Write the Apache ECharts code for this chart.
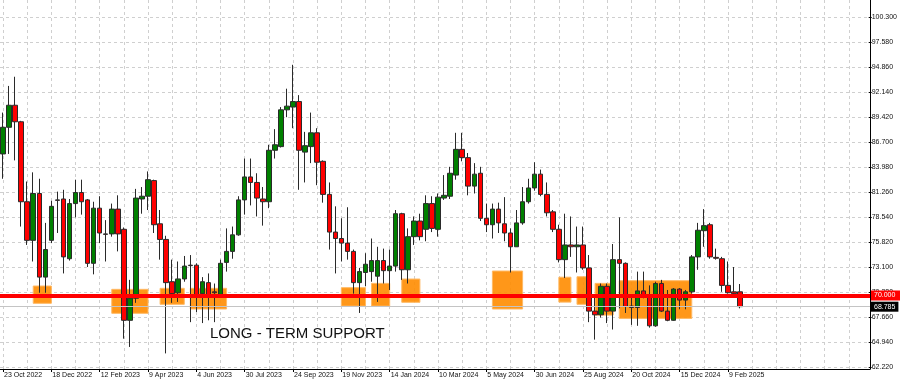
<!DOCTYPE html>
<html><head><meta charset="utf-8">
<script src="https://cdn.jsdelivr.net/npm/echarts@6/dist/echarts.min.js"></script>
<style>html,body{margin:0;padding:0;background:#fff}#c{width:900px;height:382px}</style>
</head><body><div id="c"></div>
<script>
const dates = [
'23 Oct 2022','30 Oct 2022','6 Nov 2022','13 Nov 2022','20 Nov 2022','27 Nov 2022','4 Dec 2022','11 Dec 2022','18 Dec 2022','25 Dec 2022',
'1 Jan 2023','8 Jan 2023','15 Jan 2023','22 Jan 2023','29 Jan 2023','5 Feb 2023','12 Feb 2023','19 Feb 2023','26 Feb 2023','5 Mar 2023',
'12 Mar 2023','19 Mar 2023','26 Mar 2023','2 Apr 2023','9 Apr 2023','16 Apr 2023','23 Apr 2023','30 Apr 2023','7 May 2023','14 May 2023',
'21 May 2023','28 May 2023','4 Jun 2023','11 Jun 2023','18 Jun 2023','25 Jun 2023','2 Jul 2023','9 Jul 2023','16 Jul 2023','23 Jul 2023',
'30 Jul 2023','6 Aug 2023','13 Aug 2023','20 Aug 2023','27 Aug 2023','3 Sep 2023','10 Sep 2023','17 Sep 2023','24 Sep 2023','1 Oct 2023',
'8 Oct 2023','15 Oct 2023','22 Oct 2023','29 Oct 2023','5 Nov 2023','12 Nov 2023','19 Nov 2023','26 Nov 2023','3 Dec 2023','10 Dec 2023',
'17 Dec 2023','24 Dec 2023','31 Dec 2023','7 Jan 2024','14 Jan 2024','21 Jan 2024','28 Jan 2024','4 Feb 2024','11 Feb 2024','18 Feb 2024',
'25 Feb 2024','3 Mar 2024','10 Mar 2024','17 Mar 2024','24 Mar 2024','31 Mar 2024','7 Apr 2024','14 Apr 2024','21 Apr 2024','28 Apr 2024',
'5 May 2024','12 May 2024','19 May 2024','26 May 2024','2 Jun 2024','9 Jun 2024','16 Jun 2024','23 Jun 2024','30 Jun 2024','7 Jul 2024',
'14 Jul 2024','21 Jul 2024','28 Jul 2024','4 Aug 2024','11 Aug 2024','18 Aug 2024','25 Aug 2024','1 Sep 2024','8 Sep 2024','15 Sep 2024',
'22 Sep 2024','29 Sep 2024','6 Oct 2024','13 Oct 2024','20 Oct 2024','27 Oct 2024','3 Nov 2024','10 Nov 2024','17 Nov 2024','24 Nov 2024',
'1 Dec 2024','8 Dec 2024','15 Dec 2024','22 Dec 2024','29 Dec 2024','5 Jan 2025','12 Jan 2025','19 Jan 2025','26 Jan 2025','2 Feb 2025',
'9 Feb 2025','16 Feb 2025','23 Feb 2025'
];
const opens = [
85.4,88.3,90.7,88.9,80.2,76.0,81.1,72.0,76.0,80.4,
80.5,74.0,80.0,81.2,80.4,73.5,79.5,76.7,76.7,79.4,
77.2,67.3,69.7,80.5,80.8,82.5,77.8,76.1,71.5,70.3,
71.8,73.3,73.3,70.2,71.4,70.4,69.9,73.6,74.8,76.6,
80.4,82.9,82.3,80.5,80.2,85.8,86.2,90.2,90.5,91.1,
85.6,86.2,87.7,84.6,81.0,76.9,76.2,75.7,74.8,71.4,
72.5,72.6,72.1,73.8,72.7,73.2,78.9,72.8,76.4,78.1,
77.2,80.0,77.2,80.6,80.8,83.1,85.9,85.0,81.9,83.3,
78.4,77.7,79.4,77.8,76.8,75.3,77.9,80.2,81.7,83.2,
81.0,79.1,77.2,73.9,75.5,75.3,75.5,73.0,68.3,67.9,
71.0,68.3,73.9,73.5,68.85,68.7,70.5,70.05,66.7,71.3,
68.3,67.3,70.7,69.5,70.4,74.2,77.05,77.7,74.15,74.0,
71.1,70.4,70.4
];
const closes = [
88.3,90.7,88.9,80.2,76.0,81.1,72.0,75.0,79.7,80.35,
74.2,80.0,81.2,80.2,73.5,79.5,76.8,76.65,79.4,76.7,
67.3,69.7,80.6,80.8,82.6,77.7,76.1,71.4,70.2,71.8,
73.2,73.25,70.1,71.5,70.1,70.3,73.5,74.8,76.6,80.4,
82.9,82.3,80.6,80.2,85.8,86.4,90.2,90.6,91.1,85.8,
86.3,87.7,84.5,81.0,76.9,76.2,75.7,74.8,71.4,72.6,
73.4,73.8,73.8,72.7,73.2,78.9,72.8,76.4,78.1,76.4,
80.0,77.3,80.7,80.9,83.3,85.9,85.0,81.9,83.2,78.4,
77.7,79.4,77.9,76.8,75.3,77.9,80.2,81.7,83.2,81.0,
79.0,77.2,73.9,75.5,75.3,75.5,73.0,68.3,67.9,71.0,
68.3,73.9,73.5,68.8,68.7,70.5,70.05,66.7,71.3,68.3,
67.3,70.7,69.5,70.4,74.2,77.1,77.6,74.2,74.05,71.1,
70.3,70.2,68.785
];
const lows = [
82.7,85.4,84.7,77.5,75.5,73.7,70.3,70.3,75.7,76.8,
72.4,73.8,78.5,78.8,73.1,72.3,75.7,73.7,76.4,74.8,
65.3,64.4,69.2,78.9,79.3,76.8,73.9,63.7,69.2,69.3,
71.5,67.1,68.2,67.0,67.3,67.1,69.8,72.6,74.0,76.5,
78.8,79.8,78.6,77.6,79.5,84.9,86.1,89.4,88.2,81.5,
82.3,84.4,82.0,80.1,75.0,72.4,73.7,73.9,70.2,68.1,
71.0,71.5,69.3,71.3,70.6,72.6,71.7,71.3,75.5,76.0,
75.9,76.9,76.4,80.4,80.5,82.6,84.6,80.9,81.1,78.1,
76.9,76.2,76.8,75.9,72.5,75.3,77.7,80.0,81.4,80.8,
78.6,76.9,73.6,71.9,74.2,72.5,72.8,67.1,65.2,67.6,
67.0,66.3,68.6,68.1,66.8,66.7,69.7,66.5,66.6,68.2,
67.2,67.25,68.5,68.5,70.2,72.8,75.3,74.0,73.9,70.4,
70.2,70.15,68.6
];
const highs = [
89.9,92.8,93.8,89.0,82.4,83.4,82.7,77.9,80.3,81.3,
81.5,80.5,82.6,82.6,80.5,80.2,80.8,78.2,80.0,80.9,
77.4,71.7,81.6,81.8,83.5,82.6,79.3,76.5,73.9,73.7,
74.3,74.4,73.5,72.0,72.4,71.3,73.9,77.3,77.5,80.8,
84.9,84.9,83.3,81.8,86.4,88.1,90.5,92.5,95.1,91.8,
87.8,89.9,88.2,84.7,82.3,79.7,78.4,79.6,75.0,73.0,
74.6,76.2,75.3,75.1,75.0,79.3,79.0,77.3,78.6,78.9,
80.9,80.8,81.1,83.1,84.0,87.7,87.7,85.5,84.4,84.0,
80.0,80.0,80.1,80.7,77.3,79.3,81.8,82.7,84.5,83.7,
82.3,79.3,77.7,78.9,78.6,77.5,77.5,74.4,70.1,71.3,
71.3,75.6,78.5,73.6,69.9,72.6,72.6,71.1,71.5,71.7,
70.6,70.8,70.8,70.6,74.4,77.9,79.4,77.9,75.1,74.2,
73.7,73.1,71.25
];
const yTicks = [62.22,64.94,67.66,70.38,73.10,75.82,78.54,81.26,83.98,86.70,89.42,92.14,94.86,97.58,100.30];
const supportLevel = 70.0;
const supportLabel = '70.000';
const noteText = 'LONG - TERM SUPPORT';
const zoneStart = ['27 Nov 2022','26 Feb 2023','23 Apr 2023','28 May 2023','19 Nov 2023','24 Dec 2023','28 Jan 2024','12 May 2024','28 Jul 2024','18 Aug 2024','8 Sep 2024','6 Oct 2024'];
const zoneEnd   = ['18 Dec 2022','9 Apr 2023','21 May 2023','9 Jul 2023','17 Dec 2023','14 Jan 2024','18 Feb 2024','16 Jun 2024','11 Aug 2024','1 Sep 2024','29 Sep 2024','29 Dec 2024'];
const zoneLow   = [69.15,68.06,69.04,68.53,68.85,68.85,69.26,68.53,69.28,69.04,67.87,67.51];
const zoneHigh  = [71.03,70.67,70.78,70.78,70.85,71.32,71.79,72.66,71.99,72.04,71.32,71.61];
const futureSlots = 21;

// ---- build ----
const cats = dates.concat(Array.from({length: futureSlots}, () => ''));
const ohlc = dates.map((d, i) => [opens[i], closes[i], lows[i], highs[i]]);
const lastPrice = closes[closes.length - 1];

const PLOT_W = 870, PLOT_H = 369, TICK_TOP = 17, TICK_BOTTOM = 367;
const yMin = yTicks[0], yMax = yTicks[yTicks.length - 1];
const yStep = +(yTicks[1] - yTicks[0]).toFixed(2);
const pxPerUnit = (TICK_BOTTOM - TICK_TOP) / (yMax - yMin);
const fullMax = yMax + TICK_TOP / pxPerUnit;
const fullMin = yMin - (PLOT_H - TICK_BOTTOM) / pxPerUnit;

const gridColor = '#cfcfcf';
const FONT = '"Liberation Sans", Arial, sans-serif';
const chart = echarts.init(document.getElementById('c'), null, {renderer: 'canvas'});
chart.setOption({
  animation: false,
  backgroundColor: '#ffffff',
  textStyle: {fontFamily: FONT},
  grid: [
    {left: 0, top: 0, width: PLOT_W, height: PLOT_H},
    {left: 0, top: TICK_TOP, width: PLOT_W, height: TICK_BOTTOM - TICK_TOP}
  ],
  xAxis: [
    {
      type: 'category', gridIndex: 0, data: cats, boundaryGap: true,
      axisLine: {show: true, onZero: false, lineStyle: {color: '#000', width: 1}},
      axisTick: {show: true, alignWithLabel: true, length: 3,
        interval: (i) => i % 8 === 0 && i < dates.length, lineStyle: {color: '#000'}},
      axisLabel: {show: true, interval: (i) => i % 8 === 0 && i < dates.length,
        align: 'left', margin: 3, fontSize: 7, color: '#111', fontFamily: FONT, padding: [0, 0, 0, 1]},
      splitLine: {show: true, interval: 3, alignWithLabel: true,
        lineStyle: {color: gridColor, type: [3, 3], width: 1}}
    },
    {type: 'category', gridIndex: 1, data: cats, show: false}
  ],
  yAxis: [
    {
      type: 'value', gridIndex: 0, position: 'right', min: fullMin, max: fullMax,
      axisLine: {show: true, lineStyle: {color: '#000', width: 1}},
      axisTick: {show: false}, axisLabel: {show: false}, splitLine: {show: false}
    },
    {
      type: 'value', gridIndex: 1, position: 'right', min: yMin, max: yMax, interval: yStep,
      axisLine: {show: false},
      axisTick: {show: true, length: 3, lineStyle: {color: '#000'}},
      axisLabel: {show: true, fontSize: 7, margin: 3, color: '#111', fontFamily: FONT,
        formatter: (v) => v.toFixed(3)},
      splitLine: {show: true, lineStyle: {color: gridColor, type: [3, 3], width: 1}}
    }
  ],
  series: [{
    type: 'candlestick', xAxisIndex: 0, yAxisIndex: 0, data: ohlc, barWidth: 5,
    itemStyle: {color: '#008000', color0: '#ff0000', borderColor: '#2a2a2a', borderColor0: '#2a2a2a', borderWidth: 1},
    markArea: {
      silent: true,
      label: {show: false},
      itemStyle: {color: 'rgba(255,140,0,0.9)', borderColor: 'rgba(255,185,100,1)', borderWidth: 1},
      data: zoneStart.map((s, i) => [{xAxis: s, yAxis: zoneHigh[i]}, {xAxis: zoneEnd[i], yAxis: zoneLow[i]}])
    },
    markLine: {
      silent: true, symbol: 'none',
      data: [
        {yAxis: lastPrice, lineStyle: {color: '#c4c4c4', width: 1, type: 'solid'},
          label: {show: true, position: 'end', formatter: lastPrice.toFixed(3), backgroundColor: '#000',
            color: '#fff', fontSize: 7, padding: [2, 3, 1, 3], distance: 1, fontFamily: FONT}},
        {yAxis: supportLevel, lineStyle: {color: '#ff0000', width: 4, type: 'solid'},
          label: {show: true, position: 'end', formatter: supportLabel, backgroundColor: '#ff0000',
            color: '#fff', fontSize: 7, padding: [2, 6, 1, 3], distance: 1, fontFamily: FONT}}
      ]
    }
  }],
  graphic: [{
    type: 'text', left: 210, top: 326, z: 10,
    style: {text: noteText, font: '15px ' + FONT, fill: '#111'}
  }]
});
</script></body></html>
